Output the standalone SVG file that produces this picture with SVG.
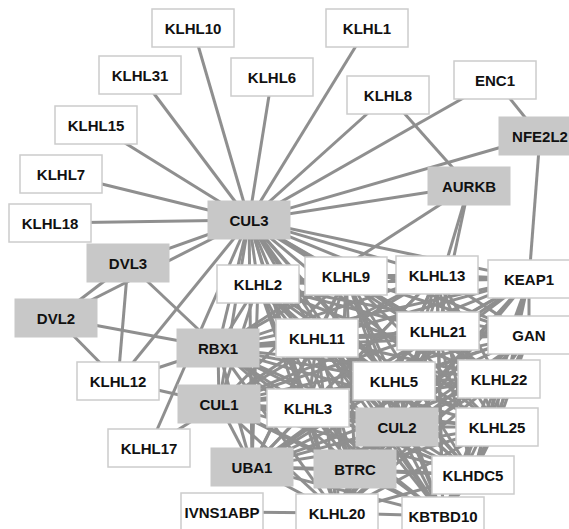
<svg xmlns="http://www.w3.org/2000/svg" width="569" height="529" viewBox="0 0 569 529">
<style>
.e line{stroke:#8f8f8f;stroke-width:3;stroke-linecap:butt}
.w{fill:#ffffff;stroke:#cccccc;stroke-width:1.5}
.g{fill:#c8c8c8;stroke:#c8c8c8;stroke-width:1}
text{font-family:"Liberation Sans",Arial,sans-serif;font-weight:bold;font-size:15px;fill:#111;text-anchor:middle}
</style>
<rect width="569" height="529" fill="#ffffff"/>
<g id="connectors" class="e">
<line x1="249" y1="220" x2="193" y2="28"/>
<line x1="249" y1="220" x2="140" y2="75"/>
<line x1="249" y1="220" x2="272" y2="77"/>
<line x1="249" y1="220" x2="367" y2="28"/>
<line x1="249" y1="220" x2="96" y2="125"/>
<line x1="249" y1="220" x2="61" y2="174"/>
<line x1="249" y1="220" x2="50" y2="223"/>
<line x1="249" y1="220" x2="388" y2="95"/>
<line x1="249" y1="220" x2="495" y2="80"/>
<line x1="249" y1="220" x2="540" y2="136"/>
<line x1="249" y1="220" x2="469" y2="186"/>
<line x1="249" y1="220" x2="128" y2="263"/>
<line x1="249" y1="220" x2="56" y2="318"/>
<line x1="249" y1="220" x2="118" y2="381"/>
<line x1="249" y1="220" x2="149" y2="448"/>
<line x1="495" y1="80" x2="540" y2="136"/>
<line x1="540" y1="136" x2="529" y2="279"/>
<line x1="388" y1="95" x2="469" y2="186"/>
<line x1="469" y1="186" x2="218" y2="348"/>
<line x1="469" y1="186" x2="397" y2="427"/>
<line x1="469" y1="186" x2="438" y2="331"/>
<line x1="128" y1="263" x2="56" y2="318"/>
<line x1="128" y1="263" x2="118" y2="381"/>
<line x1="128" y1="263" x2="218" y2="348"/>
<line x1="56" y1="318" x2="118" y2="381"/>
<line x1="56" y1="318" x2="218" y2="348"/>
<line x1="118" y1="381" x2="218" y2="348"/>
<line x1="118" y1="381" x2="219" y2="404"/>
<line x1="149" y1="448" x2="219" y2="404"/>
<line x1="222" y1="512" x2="337" y2="513"/>
<line x1="249" y1="220" x2="258" y2="284"/>
<line x1="249" y1="220" x2="346" y2="276"/>
<line x1="249" y1="220" x2="437" y2="275"/>
<line x1="249" y1="220" x2="529" y2="279"/>
<line x1="249" y1="220" x2="317" y2="338"/>
<line x1="249" y1="220" x2="438" y2="331"/>
<line x1="249" y1="220" x2="529" y2="335"/>
<line x1="249" y1="220" x2="218" y2="348"/>
<line x1="249" y1="220" x2="219" y2="404"/>
<line x1="249" y1="220" x2="394" y2="381"/>
<line x1="249" y1="220" x2="499" y2="379"/>
<line x1="249" y1="220" x2="308" y2="408"/>
<line x1="249" y1="220" x2="397" y2="427"/>
<line x1="249" y1="220" x2="497" y2="427"/>
<line x1="249" y1="220" x2="252" y2="467"/>
<line x1="249" y1="220" x2="355" y2="469"/>
<line x1="249" y1="220" x2="473" y2="475"/>
<line x1="249" y1="220" x2="337" y2="513"/>
<line x1="249" y1="220" x2="443" y2="516"/>
<line x1="258" y1="284" x2="346" y2="276"/>
<line x1="258" y1="284" x2="437" y2="275"/>
<line x1="258" y1="284" x2="529" y2="279"/>
<line x1="258" y1="284" x2="317" y2="338"/>
<line x1="258" y1="284" x2="438" y2="331"/>
<line x1="258" y1="284" x2="529" y2="335"/>
<line x1="258" y1="284" x2="218" y2="348"/>
<line x1="258" y1="284" x2="219" y2="404"/>
<line x1="258" y1="284" x2="394" y2="381"/>
<line x1="258" y1="284" x2="499" y2="379"/>
<line x1="258" y1="284" x2="308" y2="408"/>
<line x1="258" y1="284" x2="397" y2="427"/>
<line x1="258" y1="284" x2="497" y2="427"/>
<line x1="258" y1="284" x2="252" y2="467"/>
<line x1="258" y1="284" x2="355" y2="469"/>
<line x1="258" y1="284" x2="473" y2="475"/>
<line x1="258" y1="284" x2="337" y2="513"/>
<line x1="258" y1="284" x2="443" y2="516"/>
<line x1="346" y1="276" x2="437" y2="275"/>
<line x1="346" y1="276" x2="529" y2="279"/>
<line x1="346" y1="276" x2="317" y2="338"/>
<line x1="346" y1="276" x2="438" y2="331"/>
<line x1="346" y1="276" x2="529" y2="335"/>
<line x1="346" y1="276" x2="218" y2="348"/>
<line x1="346" y1="276" x2="219" y2="404"/>
<line x1="346" y1="276" x2="394" y2="381"/>
<line x1="346" y1="276" x2="499" y2="379"/>
<line x1="346" y1="276" x2="308" y2="408"/>
<line x1="346" y1="276" x2="397" y2="427"/>
<line x1="346" y1="276" x2="497" y2="427"/>
<line x1="346" y1="276" x2="252" y2="467"/>
<line x1="346" y1="276" x2="355" y2="469"/>
<line x1="346" y1="276" x2="473" y2="475"/>
<line x1="346" y1="276" x2="337" y2="513"/>
<line x1="346" y1="276" x2="443" y2="516"/>
<line x1="437" y1="275" x2="529" y2="279"/>
<line x1="437" y1="275" x2="317" y2="338"/>
<line x1="437" y1="275" x2="438" y2="331"/>
<line x1="437" y1="275" x2="529" y2="335"/>
<line x1="437" y1="275" x2="218" y2="348"/>
<line x1="437" y1="275" x2="219" y2="404"/>
<line x1="437" y1="275" x2="394" y2="381"/>
<line x1="437" y1="275" x2="499" y2="379"/>
<line x1="437" y1="275" x2="308" y2="408"/>
<line x1="437" y1="275" x2="397" y2="427"/>
<line x1="437" y1="275" x2="497" y2="427"/>
<line x1="437" y1="275" x2="252" y2="467"/>
<line x1="437" y1="275" x2="355" y2="469"/>
<line x1="437" y1="275" x2="473" y2="475"/>
<line x1="437" y1="275" x2="337" y2="513"/>
<line x1="437" y1="275" x2="443" y2="516"/>
<line x1="529" y1="279" x2="317" y2="338"/>
<line x1="529" y1="279" x2="438" y2="331"/>
<line x1="529" y1="279" x2="529" y2="335"/>
<line x1="529" y1="279" x2="218" y2="348"/>
<line x1="529" y1="279" x2="219" y2="404"/>
<line x1="529" y1="279" x2="394" y2="381"/>
<line x1="529" y1="279" x2="499" y2="379"/>
<line x1="529" y1="279" x2="308" y2="408"/>
<line x1="529" y1="279" x2="397" y2="427"/>
<line x1="529" y1="279" x2="497" y2="427"/>
<line x1="529" y1="279" x2="252" y2="467"/>
<line x1="529" y1="279" x2="355" y2="469"/>
<line x1="529" y1="279" x2="473" y2="475"/>
<line x1="529" y1="279" x2="337" y2="513"/>
<line x1="529" y1="279" x2="443" y2="516"/>
<line x1="317" y1="338" x2="438" y2="331"/>
<line x1="317" y1="338" x2="529" y2="335"/>
<line x1="317" y1="338" x2="218" y2="348"/>
<line x1="317" y1="338" x2="219" y2="404"/>
<line x1="317" y1="338" x2="394" y2="381"/>
<line x1="317" y1="338" x2="499" y2="379"/>
<line x1="317" y1="338" x2="308" y2="408"/>
<line x1="317" y1="338" x2="397" y2="427"/>
<line x1="317" y1="338" x2="497" y2="427"/>
<line x1="317" y1="338" x2="252" y2="467"/>
<line x1="317" y1="338" x2="355" y2="469"/>
<line x1="317" y1="338" x2="473" y2="475"/>
<line x1="317" y1="338" x2="337" y2="513"/>
<line x1="317" y1="338" x2="443" y2="516"/>
<line x1="438" y1="331" x2="529" y2="335"/>
<line x1="438" y1="331" x2="218" y2="348"/>
<line x1="438" y1="331" x2="219" y2="404"/>
<line x1="438" y1="331" x2="394" y2="381"/>
<line x1="438" y1="331" x2="499" y2="379"/>
<line x1="438" y1="331" x2="308" y2="408"/>
<line x1="438" y1="331" x2="397" y2="427"/>
<line x1="438" y1="331" x2="497" y2="427"/>
<line x1="438" y1="331" x2="252" y2="467"/>
<line x1="438" y1="331" x2="355" y2="469"/>
<line x1="438" y1="331" x2="473" y2="475"/>
<line x1="438" y1="331" x2="337" y2="513"/>
<line x1="438" y1="331" x2="443" y2="516"/>
<line x1="529" y1="335" x2="218" y2="348"/>
<line x1="529" y1="335" x2="219" y2="404"/>
<line x1="529" y1="335" x2="394" y2="381"/>
<line x1="529" y1="335" x2="499" y2="379"/>
<line x1="529" y1="335" x2="308" y2="408"/>
<line x1="529" y1="335" x2="397" y2="427"/>
<line x1="529" y1="335" x2="497" y2="427"/>
<line x1="529" y1="335" x2="252" y2="467"/>
<line x1="529" y1="335" x2="355" y2="469"/>
<line x1="529" y1="335" x2="473" y2="475"/>
<line x1="529" y1="335" x2="337" y2="513"/>
<line x1="529" y1="335" x2="443" y2="516"/>
<line x1="218" y1="348" x2="219" y2="404"/>
<line x1="218" y1="348" x2="394" y2="381"/>
<line x1="218" y1="348" x2="499" y2="379"/>
<line x1="218" y1="348" x2="308" y2="408"/>
<line x1="218" y1="348" x2="397" y2="427"/>
<line x1="218" y1="348" x2="497" y2="427"/>
<line x1="218" y1="348" x2="252" y2="467"/>
<line x1="218" y1="348" x2="355" y2="469"/>
<line x1="218" y1="348" x2="473" y2="475"/>
<line x1="218" y1="348" x2="337" y2="513"/>
<line x1="218" y1="348" x2="443" y2="516"/>
<line x1="219" y1="404" x2="394" y2="381"/>
<line x1="219" y1="404" x2="499" y2="379"/>
<line x1="219" y1="404" x2="308" y2="408"/>
<line x1="219" y1="404" x2="397" y2="427"/>
<line x1="219" y1="404" x2="497" y2="427"/>
<line x1="219" y1="404" x2="252" y2="467"/>
<line x1="219" y1="404" x2="355" y2="469"/>
<line x1="219" y1="404" x2="473" y2="475"/>
<line x1="219" y1="404" x2="337" y2="513"/>
<line x1="219" y1="404" x2="443" y2="516"/>
<line x1="394" y1="381" x2="499" y2="379"/>
<line x1="394" y1="381" x2="308" y2="408"/>
<line x1="394" y1="381" x2="397" y2="427"/>
<line x1="394" y1="381" x2="497" y2="427"/>
<line x1="394" y1="381" x2="252" y2="467"/>
<line x1="394" y1="381" x2="355" y2="469"/>
<line x1="394" y1="381" x2="473" y2="475"/>
<line x1="394" y1="381" x2="337" y2="513"/>
<line x1="394" y1="381" x2="443" y2="516"/>
<line x1="499" y1="379" x2="308" y2="408"/>
<line x1="499" y1="379" x2="397" y2="427"/>
<line x1="499" y1="379" x2="497" y2="427"/>
<line x1="499" y1="379" x2="252" y2="467"/>
<line x1="499" y1="379" x2="355" y2="469"/>
<line x1="499" y1="379" x2="473" y2="475"/>
<line x1="499" y1="379" x2="337" y2="513"/>
<line x1="499" y1="379" x2="443" y2="516"/>
<line x1="308" y1="408" x2="397" y2="427"/>
<line x1="308" y1="408" x2="497" y2="427"/>
<line x1="308" y1="408" x2="252" y2="467"/>
<line x1="308" y1="408" x2="355" y2="469"/>
<line x1="308" y1="408" x2="473" y2="475"/>
<line x1="308" y1="408" x2="337" y2="513"/>
<line x1="308" y1="408" x2="443" y2="516"/>
<line x1="397" y1="427" x2="497" y2="427"/>
<line x1="397" y1="427" x2="252" y2="467"/>
<line x1="397" y1="427" x2="355" y2="469"/>
<line x1="397" y1="427" x2="473" y2="475"/>
<line x1="397" y1="427" x2="337" y2="513"/>
<line x1="397" y1="427" x2="443" y2="516"/>
<line x1="497" y1="427" x2="252" y2="467"/>
<line x1="497" y1="427" x2="355" y2="469"/>
<line x1="497" y1="427" x2="473" y2="475"/>
<line x1="497" y1="427" x2="337" y2="513"/>
<line x1="497" y1="427" x2="443" y2="516"/>
<line x1="252" y1="467" x2="355" y2="469"/>
<line x1="252" y1="467" x2="473" y2="475"/>
<line x1="252" y1="467" x2="337" y2="513"/>
<line x1="252" y1="467" x2="443" y2="516"/>
<line x1="355" y1="469" x2="473" y2="475"/>
<line x1="355" y1="469" x2="337" y2="513"/>
<line x1="355" y1="469" x2="443" y2="516"/>
<line x1="473" y1="475" x2="337" y2="513"/>
<line x1="473" y1="475" x2="443" y2="516"/>
<line x1="337" y1="513" x2="443" y2="516"/>
</g>
<g id="KLHL10"><rect class="w" x="152" y="9" width="82" height="38"/><text x="193" y="33.5">KLHL10</text></g>
<g id="KLHL31"><rect class="w" x="99" y="56" width="82" height="38"/><text x="140" y="80.5">KLHL31</text></g>
<g id="KLHL6"><rect class="w" x="231" y="58" width="82" height="38"/><text x="272" y="82.5">KLHL6</text></g>
<g id="KLHL1"><rect class="w" x="326" y="9" width="82" height="38"/><text x="367" y="33.5">KLHL1</text></g>
<g id="KLHL15"><rect class="w" x="55" y="106" width="82" height="38"/><text x="96" y="130.5">KLHL15</text></g>
<g id="KLHL7"><rect class="w" x="20" y="155" width="82" height="38"/><text x="61" y="179.5">KLHL7</text></g>
<g id="KLHL18"><rect class="w" x="9" y="204" width="82" height="38"/><text x="50" y="228.5">KLHL18</text></g>
<g id="KLHL8"><rect class="w" x="347" y="76" width="82" height="38"/><text x="388" y="100.5">KLHL8</text></g>
<g id="ENC1"><rect class="w" x="454" y="61" width="82" height="38"/><text x="495" y="85.5">ENC1</text></g>
<g id="NFE2L2"><rect class="g" x="499" y="117" width="82" height="38"/><text x="540" y="141.5">NFE2L2</text></g>
<g id="AURKB"><rect class="g" x="428" y="167" width="82" height="38"/><text x="469" y="191.5">AURKB</text></g>
<g id="CUL3"><rect class="g" x="208" y="201" width="82" height="38"/><text x="249" y="225.5">CUL3</text></g>
<g id="DVL3"><rect class="g" x="87" y="244" width="82" height="38"/><text x="128" y="268.5">DVL3</text></g>
<g id="DVL2"><rect class="g" x="15" y="299" width="82" height="38"/><text x="56" y="323.5">DVL2</text></g>
<g id="KLHL2"><rect class="w" x="217" y="265" width="82" height="38"/><text x="258" y="289.5">KLHL2</text></g>
<g id="KLHL9"><rect class="w" x="305" y="257" width="82" height="38"/><text x="346" y="281.5">KLHL9</text></g>
<g id="KLHL13"><rect class="w" x="396" y="256" width="82" height="38"/><text x="437" y="280.5">KLHL13</text></g>
<g id="KEAP1"><rect class="w" x="488" y="260" width="82" height="38"/><text x="529" y="284.5">KEAP1</text></g>
<g id="KLHL11"><rect class="w" x="276" y="319" width="82" height="38"/><text x="317" y="343.5">KLHL11</text></g>
<g id="KLHL21"><rect class="w" x="397" y="312" width="82" height="38"/><text x="438" y="336.5">KLHL21</text></g>
<g id="GAN"><rect class="w" x="488" y="316" width="82" height="38"/><text x="529" y="340.5">GAN</text></g>
<g id="RBX1"><rect class="g" x="177" y="329" width="82" height="38"/><text x="218" y="353.5">RBX1</text></g>
<g id="KLHL12"><rect class="w" x="77" y="362" width="82" height="38"/><text x="118" y="386.5">KLHL12</text></g>
<g id="KLHL5"><rect class="w" x="353" y="362" width="82" height="38"/><text x="394" y="386.5">KLHL5</text></g>
<g id="KLHL22"><rect class="w" x="458" y="360" width="82" height="38"/><text x="499" y="384.5">KLHL22</text></g>
<g id="CUL1"><rect class="g" x="178" y="385" width="82" height="38"/><text x="219" y="409.5">CUL1</text></g>
<g id="KLHL3"><rect class="w" x="267" y="389" width="82" height="38"/><text x="308" y="413.5">KLHL3</text></g>
<g id="CUL2"><rect class="g" x="356" y="408" width="82" height="38"/><text x="397" y="432.5">CUL2</text></g>
<g id="KLHL25"><rect class="w" x="456" y="408" width="82" height="38"/><text x="497" y="432.5">KLHL25</text></g>
<g id="KLHL17"><rect class="w" x="108" y="429" width="82" height="38"/><text x="149" y="453.5">KLHL17</text></g>
<g id="UBA1"><rect class="g" x="211" y="448" width="82" height="38"/><text x="252" y="472.5">UBA1</text></g>
<g id="BTRC"><rect class="g" x="314" y="450" width="82" height="38"/><text x="355" y="474.5">BTRC</text></g>
<g id="KLHDC5"><rect class="w" x="432" y="456" width="82" height="38"/><text x="473" y="480.5">KLHDC5</text></g>
<g id="IVNS1ABP"><rect class="w" x="181" y="493" width="82" height="38"/><text x="222" y="517.5">IVNS1ABP</text></g>
<g id="KLHL20"><rect class="w" x="296" y="494" width="82" height="38"/><text x="337" y="518.5">KLHL20</text></g>
<g id="KBTBD10"><rect class="w" x="402" y="497" width="82" height="38"/><text x="443" y="521.5">KBTBD10</text></g>
</svg>
